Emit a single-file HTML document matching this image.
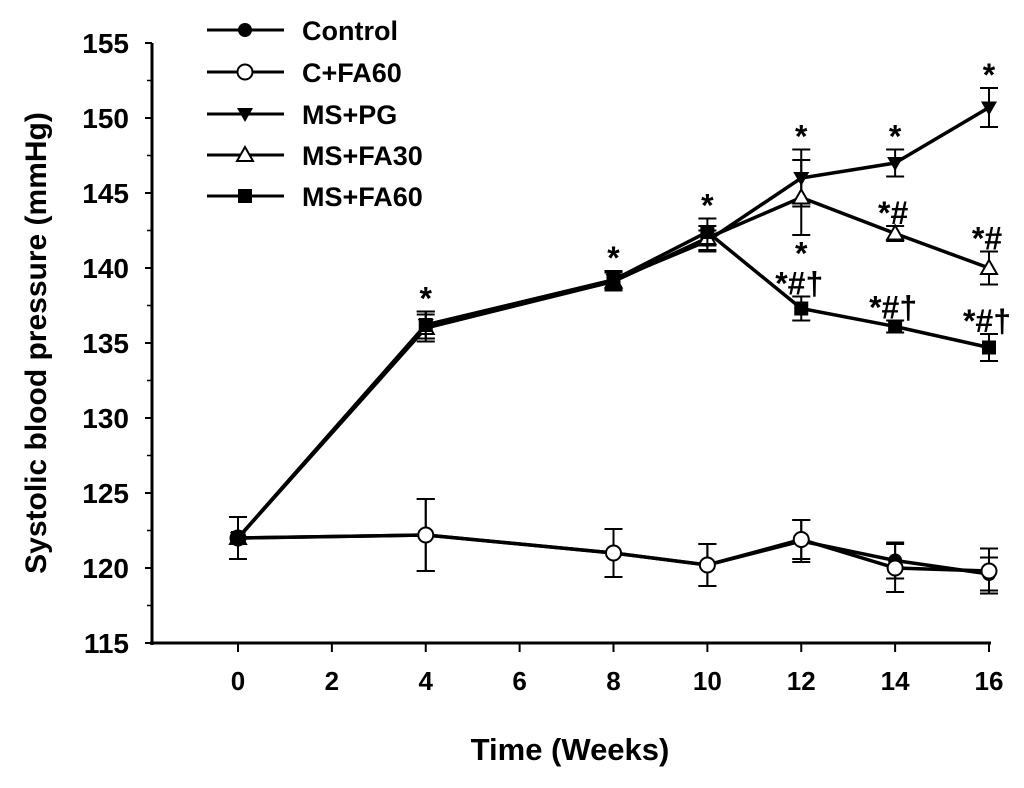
<!DOCTYPE html>
<html><head><meta charset="utf-8"><style>
body{margin:0;background:#fff}
svg text{font-family:"Liberation Sans",Arial,sans-serif;font-weight:bold;fill:#000}
</style></head><body>
<svg id="chart" width="1024" height="783" viewBox="0 0 1024 783" xmlns="http://www.w3.org/2000/svg">
<g id="axes"></g><g id="series"></g><g id="legend"></g>
</svg>
<script>
const weeks=[0,4,8,10,12,14,16];
const xTicks=[0,2,4,6,8,10,12,14,16];
const yTicks=[115,120,125,130,135,140,145,150,155];
const control=[122,122.2,121,120.2,121.8,120.5,119.6];
const controlErr=[1.4,2.4,1.6,1.4,1.4,1.2,1.1];
const cfa60=[122,122.2,121,120.2,121.9,120,119.8];
const cfa60Err=[1.4,2.4,1.6,1.4,1.3,1.6,1.5];
const mspg=[122,136.2,139.2,141.8,146,147,150.7];
const mspgErr=[1.4,0.9,0.6,0.7,1.9,0.9,1.3];
const msfa30=[122,136,139.1,142,144.7,142.3,140];
const msfa30Err=[1.4,0.9,0.6,0.8,2.5,0.5,1.1];
const msfa60=[122,136.2,139.2,142.4,137.3,136.1,134.7];
const msfa60Err=[1.4,0.9,0.6,0.9,0.8,0.4,0.9];
const annoPG=["","","","","*","*","*"];
const annoFA30=["","","","","","*#","*#"];
const annoFA60=["","*","*","*","*#†","*#†","*#†"];
const annoFA60b=["","","","","*","",""];

const NS="http://www.w3.org/2000/svg";
const X=v=>238+(v-0)*(989-238)/16;
const Y=v=>643-(v-115)*(643-43)/40;
function mk(tag,attrs,parent){const e=document.createElementNS(NS,tag);for(const k in attrs)e.setAttribute(k,attrs[k]);parent.appendChild(e);return e;}
const axes=document.getElementById('axes'),ser=document.getElementById('series'),leg=document.getElementById('legend');

const yAxis=mk('line',{x1:152,y1:43,x2:152,y2:645,stroke:'#000','stroke-width':3},axes);


const xAxis=mk('line',{x1:150,y1:643,x2:991,y2:643,stroke:'#000','stroke-width':3},axes);


yTicks.forEach((t,i)=>{
  mk('line',{x1:145,y1:Y(t),x2:152,y2:Y(t),stroke:'#000','stroke-width':2},axes);
  if(i<yTicks.length-1)mk('line',{x1:147,y1:Y(t+2.5),x2:152,y2:Y(t+2.5),stroke:'#000','stroke-width':1.5},axes);
  const tx=mk('text',{x:129,y:Y(t)+10,'text-anchor':'end','font-size':28},axes);tx.textContent=t;
  
  
});
xTicks.forEach(t=>{
  mk('line',{x1:X(t),y1:643,x2:X(t),y2:652,stroke:'#000','stroke-width':2},axes);
  const tx=mk('text',{x:X(t),y:690,'text-anchor':'middle','font-size':26},axes);tx.textContent=t;
  
  
});
const xt=mk('text',{x:570,y:760,'text-anchor':'middle','font-size':31},axes);xt.textContent='Time (Weeks)';


const yt=mk('text',{x:0,y:0,'text-anchor':'middle','font-size':30,transform:'translate(46,343) rotate(-90)'},axes);yt.textContent='Systolic blood pressure (mmHg)';



function marker(type,x,y,p){
  let e;
  if(type==='fc')e=mk('circle',{cx:x,cy:y,r:7,fill:'#000'},p);
  else if(type==='oc')e=mk('circle',{cx:x,cy:y,r:7.5,fill:'#fff',stroke:'#000','stroke-width':2},p);
  else if(type==='dt')e=mk('polygon',{points:`${x-8},${y-6} ${x+8},${y-6} ${x},${y+8}`,fill:'#000'},p);
  else if(type==='ut')e=mk('polygon',{points:`${x-8},${y+6} ${x+8},${y+6} ${x},${y-8}`,fill:'#fff',stroke:'#000','stroke-width':2},p);
  else e=mk('rect',{x:x-7,y:y-7,width:14,height:14,fill:'#000'},p);
  return e;
}
function drawSeries(name,vals,errs,type){
  const g=mk('g',{},ser);
  
  
  vals.forEach((v,i)=>{
    const x=X(weeks[i]);
    mk('line',{x1:x,y1:Y(v+errs[i]),x2:x,y2:Y(v-errs[i]),stroke:'#000','stroke-width':2},g);
    mk('line',{x1:x-9,y1:Y(v+errs[i]),x2:x+9,y2:Y(v+errs[i]),stroke:'#000','stroke-width':2},g);
    mk('line',{x1:x-9,y1:Y(v-errs[i]),x2:x+9,y2:Y(v-errs[i]),stroke:'#000','stroke-width':2},g);
  });
  mk('polyline',{points:vals.map((v,i)=>X(weeks[i])+','+Y(v)).join(' '),fill:'none',stroke:'#000','stroke-width':3.5},g);
  vals.forEach((v,i)=>{const m=marker(type,X(weeks[i]),Y(v),g);
    
    });
}
drawSeries('series-control',control,controlErr,'fc');
drawSeries('series-c-fa60',cfa60,cfa60Err,'oc');
drawSeries('series-ms-pg',mspg,mspgErr,'dt');
drawSeries('series-ms-fa30',msfa30,msfa30Err,'ut');
drawSeries('series-ms-fa60',msfa60,msfa60Err,'sq');

function annot(arr,vals,errs,off){
  arr.forEach((s,i)=>{if(!s)return;
    const t=mk('text',{x:X(weeks[i])+(s.length>1?-2:0),y:Y(vals[i]+errs[i])-off+4,'text-anchor':'middle','font-size':32},ser);t.textContent=s;
    
    });
}
annot(annoPG,mspg,mspgErr,6);
annot(annoFA30,msfa30,msfa30Err,6);
annot(annoFA60,msfa60,msfa60Err,6);
annot(annoFA60b,msfa60,msfa60Err,36);

const legNames=['Control','C+FA60','MS+PG','MS+FA30','MS+FA60'];
const legTypes=['fc','oc','dt','ut','sq'];
const legY=[30,72,114,155,196];
legNames.forEach((n,i)=>{
  const g=mk('g',{},leg);
  
  
  mk('line',{x1:207,y1:legY[i],x2:284,y2:legY[i],stroke:'#000','stroke-width':3},g);
  marker(legTypes[i],245,legY[i],g);
  const t=mk('text',{x:302,y:legY[i]+10,'font-size':27},g);t.textContent=n;
});
</script>
</body></html>
